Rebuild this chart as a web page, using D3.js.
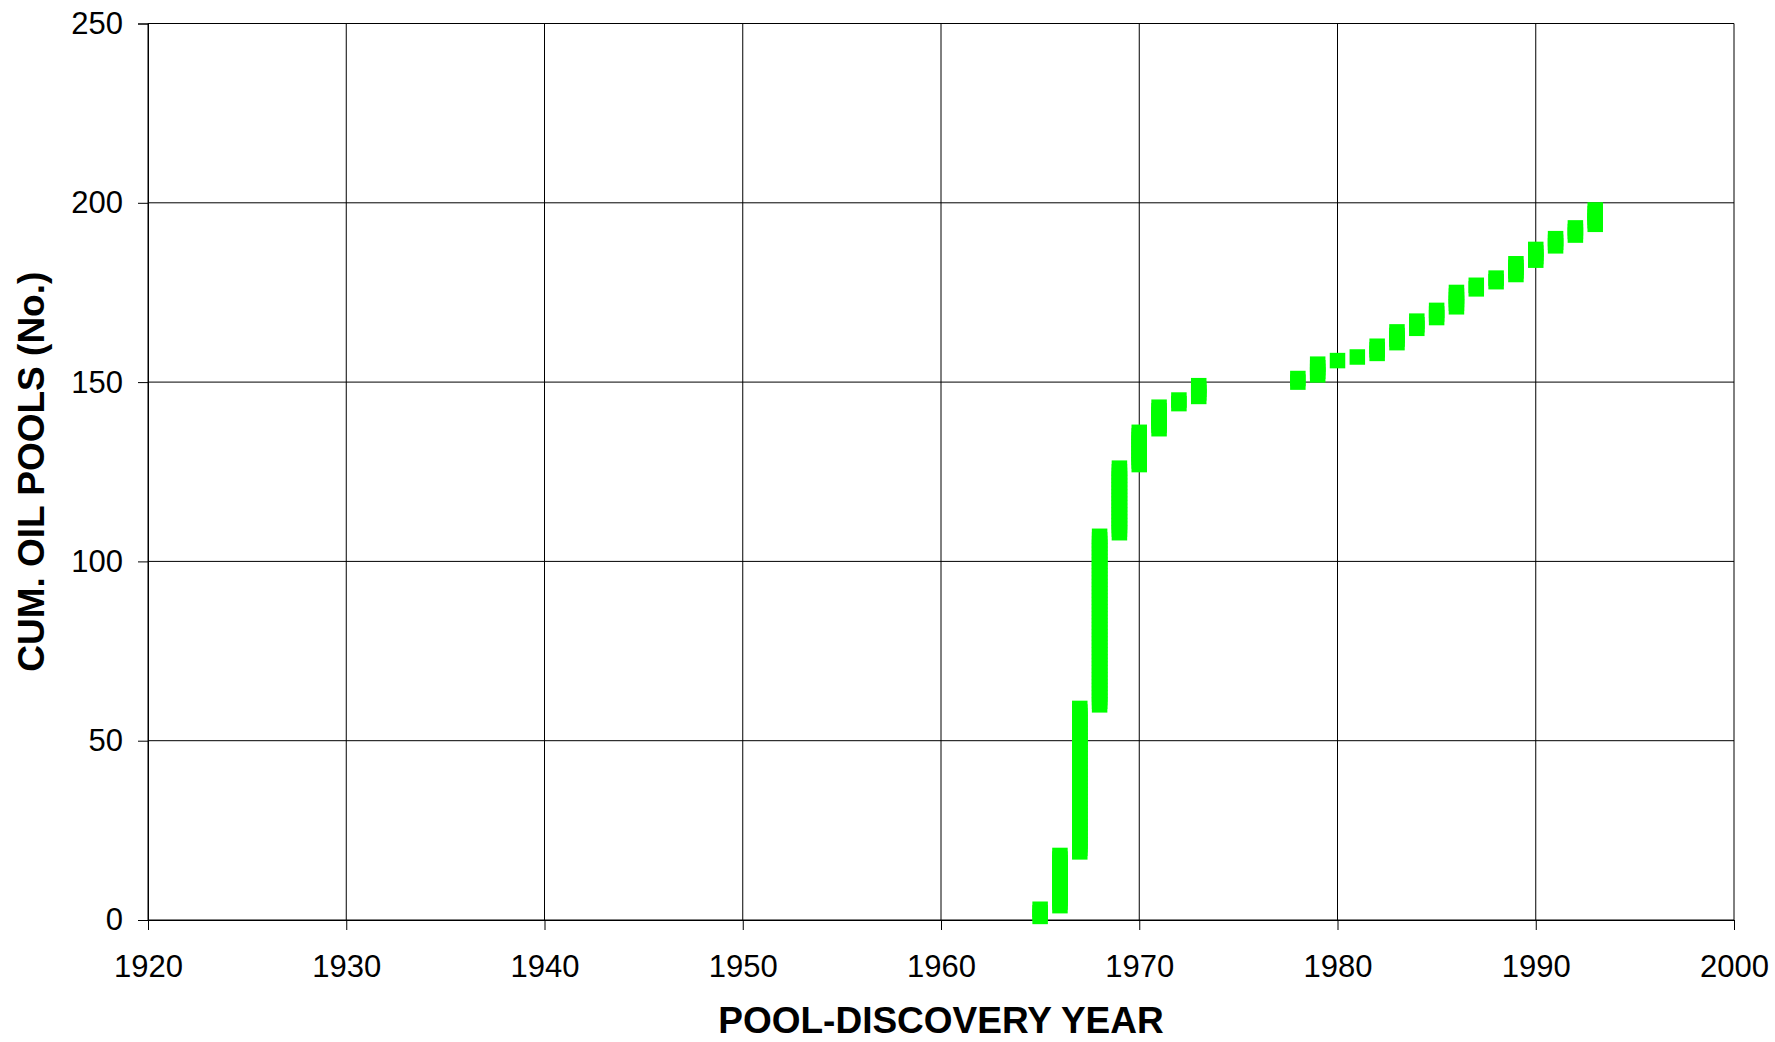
<!DOCTYPE html>
<html>
<head>
<meta charset="utf-8">
<script src="https://cdn.jsdelivr.net/npm/d3@7"></script>
<style>
  html, body { margin: 0; padding: 0; background: #fff; }
  svg { display: block; }
  text { font-family: "Liberation Sans", Arial, sans-serif; fill: #000; }
</style>
</head>
<body>
<svg id="chart" width="1775" height="1042"></svg>
<script>
// Discovery years and number of new oil pools discovered in each year
const years    = [1965, 1966, 1967, 1968, 1969, 1970, 1971, 1972, 1973,
                  1978, 1979, 1980, 1981, 1982, 1983, 1984, 1985, 1986,
                  1987, 1988, 1989, 1990, 1991, 1992, 1993];
const newPools = [3, 15, 41, 48, 19, 10, 7, 2, 4,
                  2, 4, 1, 1, 3, 4, 3, 3, 5,
                  2, 2, 4, 4, 3, 3, 5];
const xTicks = [1920, 1930, 1940, 1950, 1960, 1970, 1980, 1990, 2000];
const yTicks = [0, 50, 100, 150, 200, 250];
const xTitle = "POOL-DISCOVERY YEAR";
const yTitle = "CUM. OIL POOLS (No.)";

(function () {
  // Each pool is one point at its cumulative count
  const cum = d3.cumsum(newPools);
  const points = [];
  years.forEach((yr, i) => {
    const start = i === 0 ? 0 : cum[i - 1];
    for (let k = start + 1; k <= cum[i]; k++) points.push({ year: yr, n: k });
  });

  const svg = d3.select("#chart");
  const pL = 148, pR = 1734, pT = 23.5, pB = 920;

  const x = d3.scaleLinear().domain([1920, 2000]).range([pL, pR]);
  const y = d3.scaleLinear().domain([0, 250]).range([pB, pT]);

  // gridlines
  svg.append("g").selectAll("line").data(yTicks).join("line")
    .attr("x1", pL).attr("x2", pR)
    .attr("y1", d => y(d)).attr("y2", d => y(d))
    .attr("stroke", "#000").attr("stroke-width", 1);
  svg.append("g").selectAll("line").data(xTicks).join("line")
    .attr("y1", pT).attr("y2", pB)
    .attr("x1", d => x(d)).attr("x2", d => x(d))
    .attr("stroke", "#000").attr("stroke-width", 1);

  // axes
  const yAxis = svg.append("g").attr("transform", `translate(${pL},0)`)
    .call(d3.axisLeft(y).tickValues(yTicks).tickSize(10).tickPadding(15).tickFormat(d3.format("d")));
  const xAxis = svg.append("g").attr("transform", `translate(0,${pB})`)
    .call(d3.axisBottom(x).tickValues(xTicks).tickSize(10).tickPadding(12).tickFormat(d3.format("d")));
  [yAxis, xAxis].forEach(a => {
    a.select(".domain").attr("stroke", "#000").attr("stroke-width", 1);
    a.selectAll(".tick line").attr("stroke", "#000");
    a.selectAll(".tick text")
      .style("font-family", '"Liberation Sans", Arial, sans-serif')
      .style("font-size", "31px").attr("fill", "#000");
  });
  xAxis.selectAll(".tick text").attr("dy", null).attr("y", 57);

  // markers
  const s = 15.5;
  svg.append("g").selectAll("rect").data(points).join("rect")
    .attr("x", d => x(d.year) - s / 2)
    .attr("y", d => y(d.n) - s / 2)
    .attr("width", s).attr("height", s)
    .attr("fill", "#00ff00");

  // titles
  svg.append("text")
    .attr("x", (pL + pR) / 2).attr("y", 1033)
    .attr("text-anchor", "middle")
    .style("font-size", "37px").style("font-weight", "bold")
    .text(xTitle);
  svg.append("text")
    .attr("transform", `translate(44,${(pT + pB) / 2}) rotate(-90)`)
    .attr("text-anchor", "middle")
    .style("font-size", "37px").style("font-weight", "bold")
    .text(yTitle);
})();
</script>
</body>
</html>
